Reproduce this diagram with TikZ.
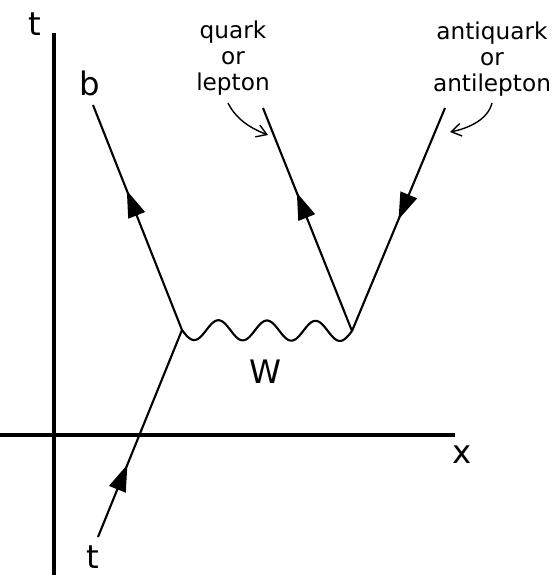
\documentclass[tikz,border=0pt]{standalone}
\usepackage{fontspec}
\setmainfont{DejaVu Sans}
\usetikzlibrary{arrows.meta,decorations.markings}

\tikzset{
  axis/.style={line width=2.3pt},
  fermion/.style={line width=1.5pt},
  boson/.style={line width=1.5pt},
  note/.style={line width=1pt, -{Straight Barb[length=7pt,width=9pt]}},
  lbl/.style={font=\fontsize{23}{25}\selectfont, inner sep=0pt},
  txt/.style={font=\fontsize{16.5}{18.6}\selectfont, align=center, inner sep=0pt},
  arrowat/.style={postaction={decorate, decoration={markings,
    mark=at position #1 with {\arrow{Triangle[length=19pt,width=12.5pt]}}}}}
}

\begin{document}
\begin{tikzpicture}[x=0.025cm, y=-0.025cm]
		\useasboundingbox (0,0) rectangle (557,575);
		
		% Axes
		\coordinate (tbot) at (54,575);
		\coordinate (ttop) at (54,33);
		\coordinate (xleft) at (0,435);
		\coordinate (xright) at (455,435);
		\draw[axis] (tbot) -- (ttop);
		\draw[axis] (xleft) -- (xright);
		\node[lbl] (tname) at (35,24) {t};
		\node[lbl] (xname) at (462,455) {x};
		
		% Vertices
		\coordinate (v1) at (182,330);
		\coordinate (v2) at (352,331);
		
		% Line ends
		\coordinate (tin) at (98,537);
		\coordinate (bout) at (93,105);
		\coordinate (qout) at (263,108);
		\coordinate (aqin) at (445,108);
		
		% Fermion lines
		\draw[fermion, arrowat=0.35] (tin) -- (v1);
		\draw[fermion, arrowat=0.62] (v1) -- (bout);
		\draw[fermion, arrowat=0.62] (v2) -- (qout);
		\draw[fermion, arrowat=0.50] (aqin) -- (v2);
		
		% W boson
		\draw[boson] (v1) plot[domain=0:170, samples=120, smooth]
			({182+\x}, {330+\x/170+10*sin(7.412*\x)});
		\node[lbl] (wname) at (265,372) {W};
		
		% Particle labels
		\node[lbl] (tquark) at (93,557) {t};
		\node[lbl] (bquark) at (90,83) {b};
		
		% Annotations
		\node[txt] (qtxt) at (233,58) {quark\\or\\lepton};
		\node[txt] (aqtxt) at (492,59) {antiquark\\or\\antilepton};
		\coordinate (qfrom) at (228,103);
		\coordinate (qto) at (268,135);
		\coordinate (aqfrom) at (492,103);
		\coordinate (aqto) at (450,132);
		\draw[note] (qfrom) .. controls (236,119) and (250,128) .. (qto);
		\draw[note] (aqfrom) .. controls (488,119) and (470,128) .. (aqto);
	\end{tikzpicture}
\end{document}
